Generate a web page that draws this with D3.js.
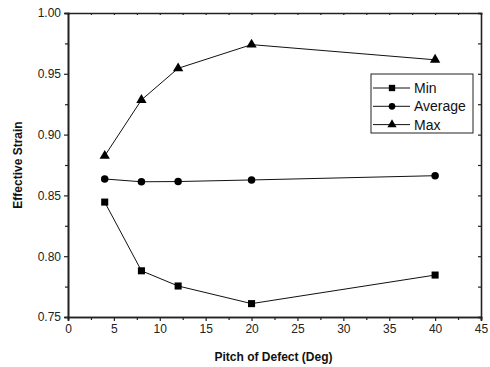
<!DOCTYPE html>
<html>
<head>
<meta charset="utf-8">
<script src="https://cdn.jsdelivr.net/npm/d3@7"></script>
<style>
  html, body { margin: 0; padding: 0; background: #fff; overflow: hidden; }
  svg { display: block; }
  text { font-family: "Liberation Sans", Arial, sans-serif; }
</style>
</head>
<body>
<svg width="490" height="367"></svg>
<script>
  // data
  const pitch = [4, 8, 12, 20, 40];
  const minVals = [0.8445, 0.788, 0.7755, 0.761, 0.7845];
  const avgVals = [0.8635, 0.8612, 0.8614, 0.8627, 0.8662];
  const maxVals = [0.8825, 0.9285, 0.9545, 0.974, 0.9615];
  const seriesNames = ['Min', 'Average', 'Max'];
  const xTicks = [0, 5, 10, 15, 20, 25, 30, 35, 40, 45];
  const yTicks = [0.75, 0.80, 0.85, 0.90, 0.95, 1.00];

  const svg = d3.select('svg');
  const margin = { top: 13, right: 9, bottom: 50, left: 68 };
  const width = 490, height = 367;
  const innerWidth = width - margin.left - margin.right;
  const innerHeight = height - margin.top - margin.bottom;

  const x = d3.scaleLinear().domain([0, 45]).range([0, innerWidth]);
  const y = d3.scaleLinear().domain([0.75, 1.0]).range([innerHeight, 0]);

  const g = svg.append('g').attr('transform', `translate(${margin.left},${margin.top})`);

  // frame with ticks
  const minorX = d3.range(2.5, 45, 5);
  const minorY = d3.range(0.775, 1.0, 0.05);

  g.append('g').attr('transform', `translate(0,${innerHeight})`)
    .call(d3.axisBottom(x).tickValues(xTicks).tickSize(4).tickPadding(3).tickFormat(d3.format('d')));
  g.append('g').attr('class', 'minor').attr('transform', `translate(0,${innerHeight})`)
    .call(d3.axisBottom(x).tickValues(minorX).tickSize(3));
  g.append('g')
    .call(d3.axisLeft(y).tickValues(yTicks).tickSize(4).tickPadding(3).tickFormat(d3.format('.2f')));
  g.append('g').attr('class', 'minor')
    .call(d3.axisLeft(y).tickValues(minorY).tickSize(3));
  g.append('g').attr('class', 'minor')
    .call(d3.axisTop(x).tickValues(xTicks.concat(minorX)).tickSize(-2));
  g.append('g').attr('class', 'minor').attr('transform', `translate(${innerWidth},0)`)
    .call(d3.axisRight(y).tickValues(yTicks.concat(minorY)).tickSize(-3));
  g.selectAll('.minor text').remove();

  g.selectAll('.domain').attr('stroke', '#222').attr('stroke-width', 1.6);
  g.selectAll('.tick line').attr('stroke', '#222').attr('stroke-width', 1.2);
  g.selectAll('.tick text').attr('font-size', 12).attr('fill', '#222')
    .style('font-family', '"Liberation Sans", Arial, sans-serif');

  // series
  const series = [
    { name: 'Min', values: minVals, symbol: d3.symbolSquare, size: 50 },
    { name: 'Average', values: avgVals, symbol: d3.symbolCircle, size: 44 },
    { name: 'Max', values: maxVals, symbol: d3.symbolTriangle, size: 46 }
  ];

  const line = d3.line().x((d, i) => x(pitch[i])).y(d => y(d));

  series.forEach(s => {
    g.append('path')
      .datum(s.values)
      .attr('fill', 'none')
      .attr('stroke', '#111')
      .attr('stroke-width', 1)
      .attr('d', line);
    g.selectAll(null).data(s.values).enter().append('path')
      .attr('d', d3.symbol().type(s.symbol).size(s.size))
      .attr('transform', (d, i) => `translate(${x(pitch[i])},${y(d)})`)
      .attr('fill', '#000');
  });

  // legend
  const legend = svg.append('g').attr('transform', 'translate(371,74)');
  legend.append('rect')
    .attr('width', 102).attr('height', 59)
    .attr('fill', '#fff').attr('stroke', '#222').attr('stroke-width', 1);
  series.forEach((s, i) => {
    const ly = 14 + i * 18.3;
    legend.append('line')
      .attr('x1', 2).attr('x2', 39).attr('y1', ly).attr('y2', ly)
      .attr('stroke', '#111').attr('stroke-width', 1);
    legend.append('path')
      .attr('d', d3.symbol().type(s.symbol).size(s.size * 0.8))
      .attr('transform', `translate(21,${ly})`)
      .attr('fill', '#000');
    legend.append('text')
      .attr('x', 43).attr('y', ly + 5)
      .attr('font-size', 14).attr('fill', '#111')
      .text(seriesNames[i]);
  });

  // axis titles
  svg.append('text')
    .attr('x', margin.left + innerWidth / 2 - 1).attr('y', 361)
    .attr('text-anchor', 'middle')
    .attr('font-size', 12).attr('font-weight', 'bold').attr('fill', '#111')
    .text('Pitch of Defect (Deg)');
  svg.append('text')
    .attr('transform', `translate(22,${margin.top + innerHeight / 2}) rotate(-90)`)
    .attr('text-anchor', 'middle')
    .attr('font-size', 12).attr('font-weight', 'bold').attr('fill', '#111')
    .text('Effective Strain');
</script>
</body>
</html>
